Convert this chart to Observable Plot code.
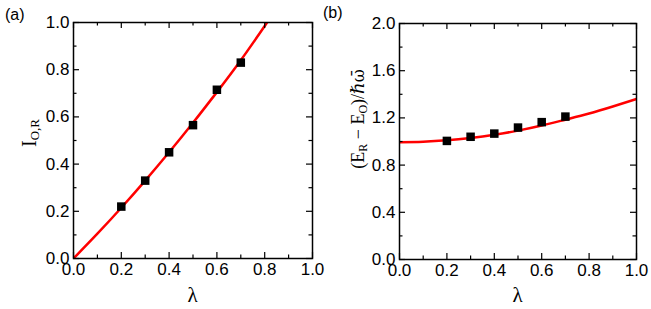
<!DOCTYPE html>
<html><head><meta charset="utf-8">
<script src="https://cdn.jsdelivr.net/npm/d3@7"></script>
<script src="https://cdn.jsdelivr.net/npm/@observablehq/plot@0.6"></script>
<style>
body{margin:0;background:#fff;}
#wrap{position:relative;width:651px;height:309px;overflow:hidden;}
#wrap svg{position:absolute;top:0;}
</style></head><body><div id="wrap"></div>
<script>
// measured points (lambda)
const lambdaPts = [0.2, 0.3, 0.4, 0.5, 0.6, 0.7];
// panel (a): I_{O,R}
const iorPts = [0.22, 0.33, 0.45, 0.565, 0.715, 0.83];
const fitAX = [0, 0.1, 0.2, 0.3, 0.4, 0.5, 0.6, 0.7, 0.8, 0.81];
const fitAY = [0, 0.105, 0.215, 0.33, 0.45, 0.575, 0.705, 0.84, 0.985, 1.0];
// panel (b): (E_R - E_O)/hbar omega
const energyPts = [1.005, 1.04, 1.067, 1.118, 1.164, 1.211];
const fitBX = [0, 0.1, 0.2, 0.3, 0.4, 0.5, 0.6, 0.7, 0.8, 0.9, 1.0];
const fitBY = [0.994, 0.998, 1.01, 1.03, 1.057, 1.092, 1.135, 1.185, 1.237, 1.297, 1.36];
// ticks
const xMajor = [0, 0.2, 0.4, 0.6, 0.8, 1.0];
const xMinor = [0.1, 0.3, 0.5, 0.7, 0.9];
const yMajorA = [0, 0.2, 0.4, 0.6, 0.8, 1.0];
const yMinorA = [0.1, 0.3, 0.5, 0.7, 0.9];
const yMajorB = [0, 0.4, 0.8, 1.2, 1.6, 2.0];
const yMinorB = [0.2, 0.6, 1.0, 1.4, 1.8];

const SERIF = "'Liberation Serif','Times New Roman','DejaVu Serif',serif";
const SANS = "'Liberation Sans',Arial,sans-serif";

function panel(o) {
  const H = 309 - o.mt - o.mb, W = o.width - o.ml - o.mr;
  const T = 6, t = 3.5;
  const fit = o.fitX.map((x, i) => ({x, y: o.fitY[i]}));
  const pts = lambdaPts.map((x, i) => ({x, y: o.pts[i]}));
  const f = d3.format(".1f");
  const tk = {stroke: "black", strokeWidth: 1.2};
  return Plot.plot({
    width: o.width, height: 309,
    marginLeft: o.ml, marginRight: o.mr, marginTop: o.mt, marginBottom: o.mb,
    x: {domain: [0, 1]},
    y: {domain: o.yDomain},
    style: {fontFamily: SANS, fontSize: "17px", color: "black", background: "transparent", overflow: "visible"},
    marks: [
      Plot.line(fit, {x: "x", y: "y", stroke: "#ff0000", strokeWidth: 2.5, curve: "natural", clip: true}),
      Plot.dot(pts, {x: "x", y: "y", symbol: "square", r: 4.8, fill: "black", stroke: "none"}),
      Plot.tickX(xMajor, {x: d => d, insetTop: H - T, ...tk}),
      Plot.tickX(xMajor, {x: d => d, insetBottom: H - T, ...tk}),
      Plot.tickX(xMinor, {x: d => d, insetTop: H - t, ...tk}),
      Plot.tickX(xMinor, {x: d => d, insetBottom: H - t, ...tk}),
      Plot.tickY(o.yMajor, {y: d => d, insetRight: W - T, ...tk}),
      Plot.tickY(o.yMajor, {y: d => d, insetLeft: W - T, ...tk}),
      Plot.tickY(o.yMinor, {y: d => d, insetRight: W - t, ...tk}),
      Plot.tickY(o.yMinor, {y: d => d, insetLeft: W - t, ...tk}),
      Plot.axisX(xMajor, {tickSize: 0, tickPadding: 4, tickFormat: f, label: null}),
      Plot.axisY(o.yMajor, {tickSize: 0, tickPadding: 4, tickFormat: f, label: null}),
      Plot.frame({stroke: "black", strokeWidth: 1.5})
    ]
  });
}

const wrap = document.getElementById("wrap");

const svgA = panel({width: 325, ml: 73, mr: 13, mt: 22, mb: 51, yDomain: [0, 1],
  yMajor: yMajorA, yMinor: yMinorA, pts: iorPts, fitX: fitAX, fitY: fitAY});
svgA.style.left = "0px";
wrap.appendChild(svgA);

const svgB = panel({width: 326, ml: 74, mr: 15, mt: 23, mb: 50, yDomain: [0, 2],
  yMajor: yMajorB, yMinor: yMinorB, pts: energyPts, fitX: fitBX, fitY: fitBY});
svgB.style.left = "325px";
wrap.appendChild(svgB);

// labels panel (a)
const sa = d3.select(svgA);
sa.append("text").attr("x", 5).attr("y", 20).attr("text-anchor", "start")
  .attr("font-family", SANS).attr("font-size", 16).text("(a)");
const ya = sa.append("text").attr("transform", "translate(36,133) rotate(-90)")
  .attr("text-anchor", "middle").attr("font-family", SERIF).attr("font-size", 20);
ya.append("tspan").text("I");
ya.append("tspan").attr("font-size", 13).attr("dy", 3).text("O,R");
sa.append("text").attr("x", 192.5).attr("y", 302).attr("text-anchor", "middle")
  .attr("font-family", SERIF).attr("font-size", 21).text("λ");

// labels panel (b)
const sb = d3.select(svgB);
sb.append("text").attr("x", -2).attr("y", 18).attr("text-anchor", "start")
  .attr("font-family", SANS).attr("font-size", 16).text("(b)");
const yb = sb.append("text").attr("transform", "translate(39,119) rotate(-90)")
  .attr("text-anchor", "middle").attr("font-family", SERIF).attr("font-size", 18);
yb.append("tspan").text("(E");
yb.append("tspan").attr("font-size", 12).attr("dy", 3).text("R");
yb.append("tspan").attr("dy", -3).text(" − E");
yb.append("tspan").attr("font-size", 12).attr("dy", 3).text("O");
yb.append("tspan").attr("dy", -3).text(")/");
yb.append("tspan").attr("font-style", "italic").text("ℏ");
yb.append("tspan").attr("font-family", "'DejaVu Serif',serif").attr("font-size", 16).text("ω\u0304");
sb.append("text").attr("x", 192.5).attr("y", 302).attr("text-anchor", "middle")
  .attr("font-family", SERIF).attr("font-size", 21).text("λ");
</script>
</body></html>
